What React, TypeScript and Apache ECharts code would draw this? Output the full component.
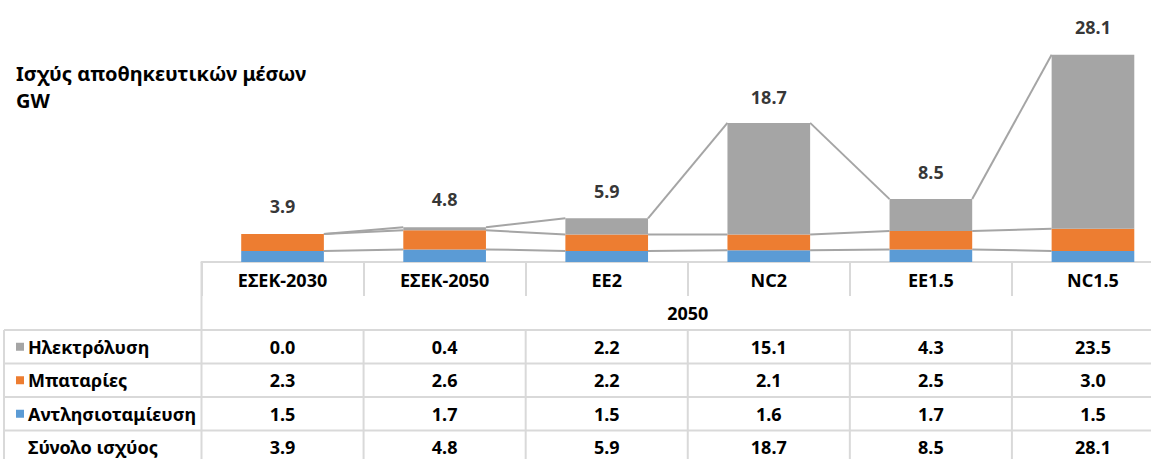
import React, { useEffect, useRef } from "react";
import * as echarts from "echarts";

const categories = ["ΕΣΕΚ-2030", "ΕΣΕΚ-2050", "EE2", "NC2", "EE1.5", "NC1.5"];
const groupLabel = "2050";
const electrolysis = [0.0, 0.4, 2.2, 15.1, 4.3, 23.5];
const batteries = [2.3, 2.6, 2.2, 2.1, 2.5, 3.0];
const pumpedHydro = [1.5, 1.7, 1.5, 1.6, 1.7, 1.5];
const totals = [3.9, 4.8, 5.9, 18.7, 8.5, 28.1];
const seriesNames = ["Ηλεκτρόλυση", "Μπαταρίες", "Αντλησιοταμίευση"];
const totalName = "Σύνολο ισχύος";
const titleLines = ["Ισχύς αποθηκευτικών μέσων", "GW"];

const COLORS = { electro: "#a5a5a5", batt: "#ed7d31", pump: "#5b9bd5" };
const FONT = "'Noto Sans', 'Open Sans', sans-serif";
const W = 1151;
const H = 459;
const CHART_W = 1190;
const GRID_LEFT = 201.5;
const GRID_WIDTH = 972.5;
const GRID_TOP = 40;
const GRID_HEIGHT = 222;
const BAR_FRAC = 0.51;
const GRID_COLOR = "#d9d9d9";
const TABLE_FS = 18;

export default function App() {
  const ref = useRef<HTMLDivElement>(null);

  useEffect(() => {
    if (!ref.current) return;
    const chart = echarts.init(ref.current, null, { renderer: "svg" });

    const lvl1 = pumpedHydro.map((v) => v);
    const lvl2 = pumpedHydro.map((v, i) => v + batteries[i]);
    const lvl3 = pumpedHydro.map((v, i) => v + batteries[i] + electrolysis[i]);
    const connData = categories.slice(0, -1).map((_, i) => [
      i, lvl1[i], lvl2[i], lvl3[i], lvl1[i + 1], lvl2[i + 1], lvl3[i + 1],
    ]);

    const colW = GRID_WIDTH / categories.length;
    const baseY = GRID_TOP + GRID_HEIGHT;
    const headerBottom = baseY + 68; // bottom of the "2050" row
    const rowH = 33.5;
    const tableLeft = 4;
    const fmt = (v: number) => v.toFixed(1);

    const graphics: any[] = [];
    titleLines.forEach((t, k) => {
      graphics.push({
        type: "text",
        x: 16,
        y: 73 + k * 27,
        style: { text: t, font: `bold 20px ${FONT}`, fill: "#000", verticalAlign: "middle" },
      });
    });
    for (let r = 0; r <= 4; r++) {
      const y = headerBottom + r * rowH;
      graphics.push({
        type: "line",
        shape: { x1: tableLeft, y1: y, x2: CHART_W, y2: y },
        style: { stroke: GRID_COLOR, lineWidth: 2 },
      });
    }
    graphics.push({
      type: "line",
      shape: { x1: tableLeft, y1: headerBottom, x2: tableLeft, y2: H },
      style: { stroke: GRID_COLOR, lineWidth: 2 },
    });
    graphics.push({
      type: "line",
      shape: { x1: GRID_LEFT, y1: baseY, x2: GRID_LEFT, y2: H },
      style: { stroke: GRID_COLOR, lineWidth: 2 },
    });
    for (let k = 1; k < categories.length; k++) {
      const x = GRID_LEFT + k * colW;
      graphics.push({
        type: "line",
        shape: { x1: x, y1: headerBottom, x2: x, y2: H },
        style: { stroke: GRID_COLOR, lineWidth: 2 },
      });
    }
    graphics.push({
      type: "text",
      x: GRID_LEFT + GRID_WIDTH / 2,
      y: baseY + 51,
      style: {
        text: groupLabel,
        font: `bold ${TABLE_FS}px ${FONT}`,
        fill: "#000",
        align: "center",
        verticalAlign: "middle",
      },
    });
    const rows = [
      { name: seriesNames[0], color: COLORS.electro, vals: electrolysis },
      { name: seriesNames[1], color: COLORS.batt, vals: batteries },
      { name: seriesNames[2], color: COLORS.pump, vals: pumpedHydro },
      { name: totalName, color: null, vals: totals },
    ];
    rows.forEach((row, r) => {
      const cy = headerBottom + r * rowH + rowH / 2;
      if (row.color) {
        graphics.push({
          type: "rect",
          shape: { x: 16, y: cy - 4, width: 8, height: 8 },
          style: { fill: row.color },
        });
      }
      graphics.push({
        type: "text",
        x: 28,
        y: cy,
        style: {
          text: row.name,
          font: `bold ${TABLE_FS}px ${FONT}`,
          fill: "#000",
          verticalAlign: "middle",
        },
      });
      row.vals.forEach((v, i) => {
        graphics.push({
          type: "text",
          x: GRID_LEFT + (i + 0.5) * colW,
          y: cy,
          style: {
            text: fmt(v),
            font: `bold ${TABLE_FS}px ${FONT}`,
            fill: "#000",
            align: "center",
            verticalAlign: "middle",
          },
        });
      });
    });

    const barCommon = {
      type: "bar",
      stack: "total",
      barWidth: `${BAR_FRAC * 100}%`,
      emphasis: { disabled: true },
    };

    chart.setOption({
      animation: false,
      grid: { left: GRID_LEFT, top: GRID_TOP, width: GRID_WIDTH, height: GRID_HEIGHT },
      xAxis: {
        type: "category",
        data: categories,
        axisLine: { lineStyle: { color: GRID_COLOR, width: 2 } },
        axisTick: { show: true, length: 34, lineStyle: { color: GRID_COLOR, width: 2 } },
        axisLabel: {
          margin: 9,
          fontFamily: FONT,
          fontWeight: "bold",
          fontSize: TABLE_FS,
          color: "#000",
          interval: 0,
        },
      },
      yAxis: { type: "value", min: 0, max: 30, show: false, splitLine: { show: false } },
      series: [
        { ...barCommon, name: seriesNames[2], data: pumpedHydro, itemStyle: { color: COLORS.pump } },
        { ...barCommon, name: seriesNames[1], data: batteries, itemStyle: { color: COLORS.batt } },
        { ...barCommon, name: seriesNames[0], data: electrolysis, itemStyle: { color: COLORS.electro } },
        {
          type: "custom",
          name: "series-lines",
          data: connData,
          encode: { x: 0, y: 1 },
          silent: true,
          z: 1,
          renderItem: (params: any, api: any) => {
            const i = api.value(0);
            const half = (api.size([1, 0])[0] * BAR_FRAC) / 2;
            const children: any[] = [];
            for (let k = 1; k <= 3; k++) {
              const a = api.coord([i, api.value(k)]);
              const b = api.coord([i + 1, api.value(k + 3)]);
              children.push({
                type: "line",
                shape: { x1: a[0] + half, y1: a[1], x2: b[0] - half, y2: b[1] },
                style: { stroke: "#a5a5a5", lineWidth: 2 },
              });
            }
            return { type: "group", children };
          },
        },
        {
          type: "scatter",
          name: totalName,
          data: totals,
          symbolSize: 0,
          itemStyle: { color: "transparent" },
          silent: true,
          label: {
            show: true,
            position: "top",
            distance: 18,
            formatter: (p: any) => fmt(p.value),
            fontFamily: FONT,
            fontWeight: "bold",
            fontSize: 18,
            color: "#000",
          },
        },
      ],
      graphic: graphics,
    });

    return () => chart.dispose();
  }, []);

  return (
    <div
      style={{
        position: "absolute",
        left: 0,
        top: 0,
        width: W,
        height: H,
        overflow: "hidden",
        background: "#fff",
      }}
    >
      <div ref={ref} style={{ width: CHART_W, height: H }} />
    </div>
  );
}
